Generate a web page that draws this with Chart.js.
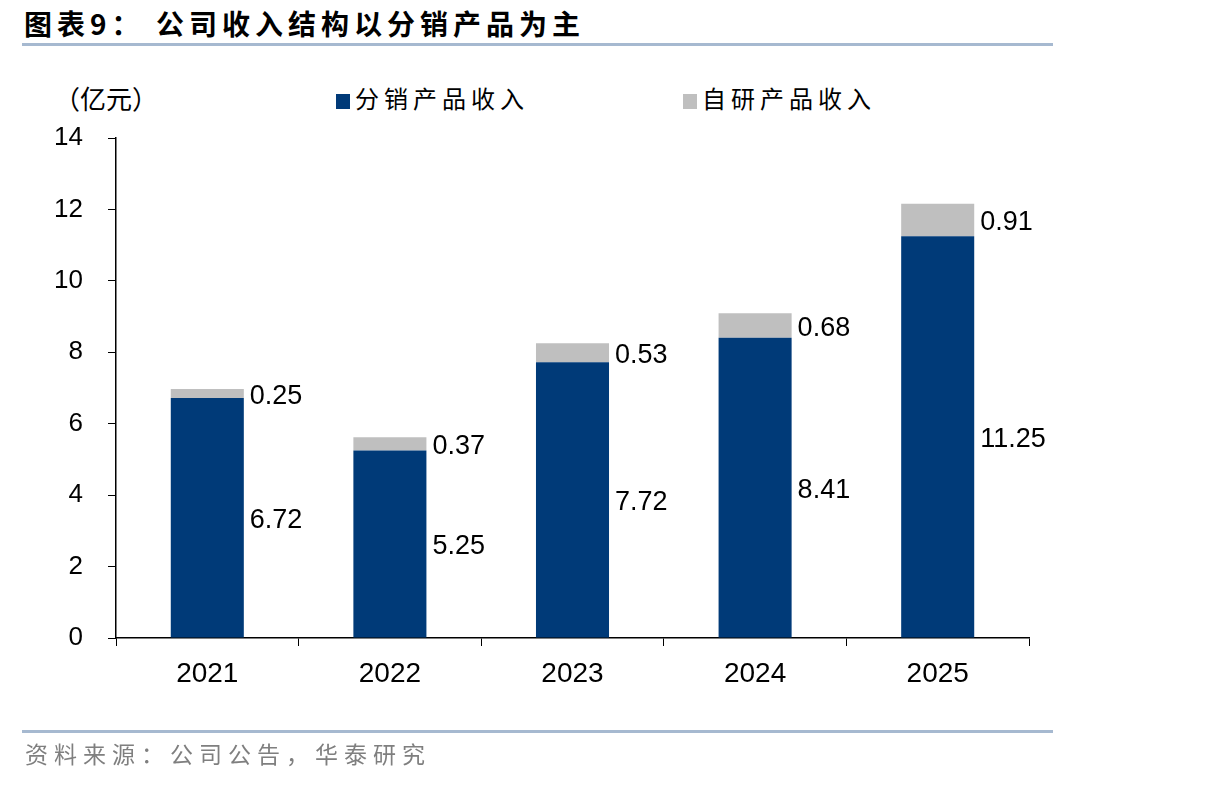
<!DOCTYPE html>
<html>
<head>
<meta charset="utf-8">
<script src="https://cdn.jsdelivr.net/npm/chart.js@4/dist/chart.umd.min.js"></script>
<style>
  body { margin: 0; background: #fff; }
  #wrap { position: relative; width: 1206px; height: 786px; overflow: hidden; font-family: "Noto Sans CJK SC", sans-serif; }
  #myChart { position: absolute; left: 0; top: 0; }
  .title { position: absolute; left: 24px; top: 3px; font-size: 28px; font-weight: bold; letter-spacing: 5px; color: #000; }
  .rule { position: absolute; left: 22px; width: 1031px; height: 3px; background: #a6b9d0; }
  .unit { position: absolute; left: 54px; top: 79px; font-size: 26px; color: #000; }
  .legend { position: absolute; top: 80px; font-size: 24px; letter-spacing: 5px; color: #000; }
  .legend i { display: inline-block; width: 14px; height: 15px; margin-right: 5px; vertical-align: -1px; }
  .source { position: absolute; left: 25px; top: 736px; font-size: 23px; letter-spacing: 6px; color: #7f7f7f; }
</style>
</head>
<body>
<div id="wrap">
  <div class="title">图表9：&nbsp;公司收入结构以分销产品为主</div>
  <div class="rule" style="top:43px"></div>
  <div class="unit">（亿元）</div>
  <div class="legend" style="left:336px"><i style="background:#003a78"></i>分销产品收入</div>
  <div class="legend" style="left:683px"><i style="background:#bfbfbf"></i>自研产品收入</div>
  <canvas id="myChart" width="1206" height="786"></canvas>
  <div class="rule" style="top:730px"></div>
  <div class="source">资料来源：公司公告，华泰研究</div>
</div>
<script>
const years = ["2021", "2022", "2023", "2024", "2025"];
const distribution = [6.72, 5.25, 7.72, 8.41, 11.25]; // 分销产品收入
const ownBrand = [0.25, 0.37, 0.53, 0.68, 0.91];      // 自研产品收入
const yTicks = [0, 2, 4, 6, 8, 10, 12, 14];

// draw the value beside each bar segment
const barLabels = {
    id: "barLabels",
    afterDatasetsDraw(chart) {
        const ctx = chart.ctx;
        ctx.save();
        ctx.font = "27px 'Liberation Sans', Arial, sans-serif";
        ctx.fillStyle = "#000";
        ctx.textAlign = "left";
        ctx.textBaseline = "middle";
        chart.data.datasets.forEach((ds, i) => {
            chart.getDatasetMeta(i).data.forEach((bar, j) => {
                const x = bar.x + bar.width / 2 + 6;
                const y = (bar.y + bar.base) / 2 + 3;
                ctx.fillText(ds.data[j].toFixed(2), x, y);
            });
        });
        ctx.restore();
    },
};

new Chart("myChart", {
    type: "bar",
    data: {
        labels: years,
        datasets: [
            {
                label: "分销产品收入",
                data: distribution,
                backgroundColor: "#003a78",
                categoryPercentage: 1,
                barPercentage: 0.4,
            },
            {
                label: "自研产品收入",
                data: ownBrand,
                backgroundColor: "#bfbfbf",
                categoryPercentage: 1,
                barPercentage: 0.4,
            },
        ],
    },
    options: {
        responsive: false,
        animation: false,
        layout: { padding: { top: 138, right: 177, left: 0, bottom: 0 } },
        plugins: {
            legend: { display: false },
            tooltip: { enabled: false },
        },
        scales: {
            x: {
                stacked: true,
                afterFit: (s) => { s.height = 148; },
                border: { display: true, color: "#000", width: 1.5 },
                grid: { drawOnChartArea: false, drawTicks: true, tickLength: 8, color: "#000", offset: true },
                ticks: {
                    color: "#000",
                    padding: 11,
                    font: { family: "'Liberation Sans', Arial, sans-serif", size: 28 },
                },
            },
            y: {
                stacked: true,
                min: 0,
                max: 14,
                afterFit: (s) => { s.width = 116; },
                afterBuildTicks: (s) => { s.ticks = yTicks.map((v) => ({ value: v })); },
                border: { display: true, color: "#000", width: 1.5 },
                grid: { drawOnChartArea: false, drawTicks: true, tickLength: 8, color: "#000" },
                ticks: {
                    color: "#000",
                    padding: 25,
                    font: { family: "'Liberation Sans', Arial, sans-serif", size: 26 },
                },
            },
        },
    },
    plugins: [barLabels],
});
</script>
</body>
</html>
